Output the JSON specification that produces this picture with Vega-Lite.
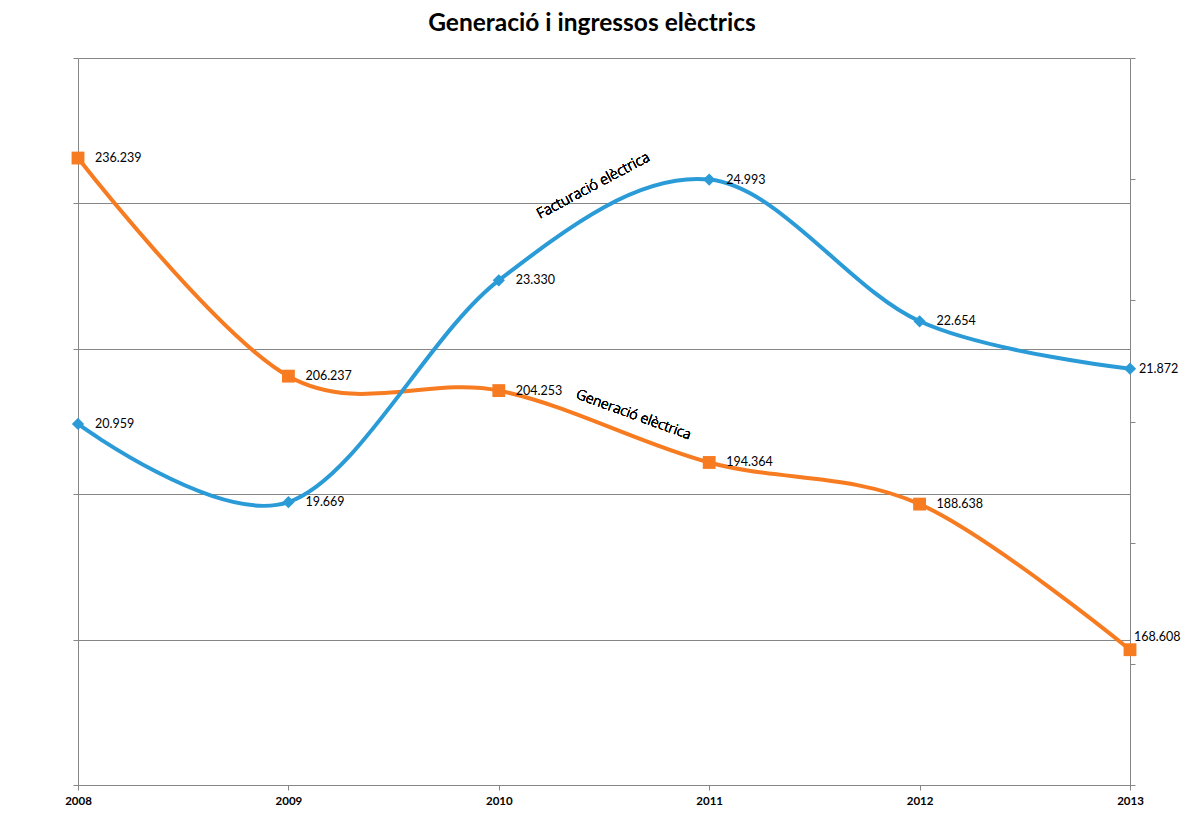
{
  "$schema": "https://vega.github.io/schema/vega-lite/v6.json",
  "autosize": {"type": "none"},
  "padding": {"left": 78, "top": 58, "right": 55, "bottom": 38},
  "width": 1052,
  "height": 727,
  "background": "white",
  "title": {"text": "Generació i ingressos elèctrics", "font": "Lato", "fontSize": 24.5, "fontWeight": "bold", "color": "black", "anchor": "middle", "dx": -12, "offset": 21},
  "data": {"values": [
    {"year": 2008, "generacio": 236239, "facturacio": 20959},
    {"year": 2009, "generacio": 206237, "facturacio": 19669},
    {"year": 2010, "generacio": 204253, "facturacio": 23330},
    {"year": 2011, "generacio": 194364, "facturacio": 24993},
    {"year": 2012, "generacio": 188638, "facturacio": 22654},
    {"year": 2013, "generacio": 168608, "facturacio": 21872}
  ]},
  "encoding": {
    "x": {"field": "year", "type": "quantitative", "scale": {"domain": [2008, 2013], "nice": false, "zero": false},
      "axis": {"title": null, "values": [2008, 2009, 2010, 2011, 2012, 2013], "format": "d", "grid": false, "labelFlush": false, "labelFont": "Lato", "labelFontWeight": "bold", "labelFontSize": 11.5, "labelColor": "black", "tickSize": 5, "tickColor": "#868686", "domainColor": "#868686", "labelPadding": 5}}
  },
  "layer": [
    {
      "encoding": {
        "y": {"field": "generacio", "type": "quantitative", "scale": {"domain": [150000, 250000], "nice": false, "zero": false},
          "axis": {"orient": "left", "title": null, "labels": false, "values": [150000, 170000, 190000, 210000, 230000, 250000], "grid": true, "gridColor": "#868686", "gridWidth": 1, "tickSize": 5, "tickColor": "#868686", "domainColor": "#868686"}}
      },
      "layer": [
        {"mark": {"type": "line", "interpolate": "cardinal", "color": "#f77b21", "strokeWidth": 4}},
        {"mark": {"type": "point", "shape": "square", "filled": true, "opacity": 1, "size": 165, "color": "#f77b21"}},
        {"transform": [{"filter": "datum.year < 2013"}],
         "mark": {"type": "text", "align": "left", "baseline": "middle", "dx": 17, "font": "Lato", "fontSize": 12.5, "fontWeight": "normal", "color": "black"},
         "encoding": {"text": {"field": "generacio", "type": "quantitative", "format": ",d"}}},
        {"transform": [{"filter": "datum.year == 2013"}],
         "mark": {"type": "text", "align": "left", "baseline": "middle", "dx": 4, "dy": -13, "font": "Lato", "fontSize": 12.5, "fontWeight": "normal", "color": "black"},
         "encoding": {"text": {"field": "generacio", "type": "quantitative", "format": ",d"}}},
        {"mark": {"type": "text", "align": "center", "baseline": "middle", "angle": 20, "font": "Open Sans", "fontSize": 14, "fontWeight": 300, "color": "black"},
         "encoding": {"x": {"datum": 2010.64}, "y": {"datum": 200894}, "text": {"value": "Generació elèctrica"}}}
      ]
    },
    {
      "encoding": {
        "y": {"field": "facturacio", "type": "quantitative", "scale": {"domain": [15000, 27000], "nice": false, "zero": false},
          "axis": {"orient": "right", "title": null, "labels": false, "values": [15000, 17000, 19000, 21000, 23000, 25000, 27000], "grid": false, "tickSize": 5, "tickColor": "#868686", "domainColor": "#868686"}}
      },
      "layer": [
        {"mark": {"type": "line", "interpolate": "cardinal", "color": "#2a9bd7", "strokeWidth": 4}},
        {"mark": {"type": "point", "shape": "diamond", "filled": true, "opacity": 1, "size": 150, "color": "#2a9bd7"}},
        {"transform": [{"filter": "datum.year < 2013"}],
         "mark": {"type": "text", "align": "left", "baseline": "middle", "dx": 17, "font": "Lato", "fontSize": 12.5, "fontWeight": "normal", "color": "black"},
         "encoding": {"text": {"field": "facturacio", "type": "quantitative", "format": ",d"}}},
        {"transform": [{"filter": "datum.year == 2013"}],
         "mark": {"type": "text", "align": "left", "baseline": "middle", "dx": 9, "font": "Lato", "fontSize": 12.5, "fontWeight": "normal", "color": "black"},
         "encoding": {"text": {"field": "facturacio", "type": "quantitative", "format": ",d"}}},
        {"mark": {"type": "text", "align": "center", "baseline": "middle", "angle": -28, "font": "Open Sans", "fontSize": 14.5, "fontWeight": 300, "color": "black"},
         "encoding": {"x": {"datum": 2010.45}, "y": {"datum": 24887}, "text": {"value": "Facturació elèctrica"}}}
      ]
    }
  ],
  "resolve": {"scale": {"y": "independent"}},
  "config": {
    "view": {"stroke": null},
    "locale": {"number": {"decimal": ",", "thousands": ".", "grouping": [3], "currency": ["", "€"]}}
  }
}
